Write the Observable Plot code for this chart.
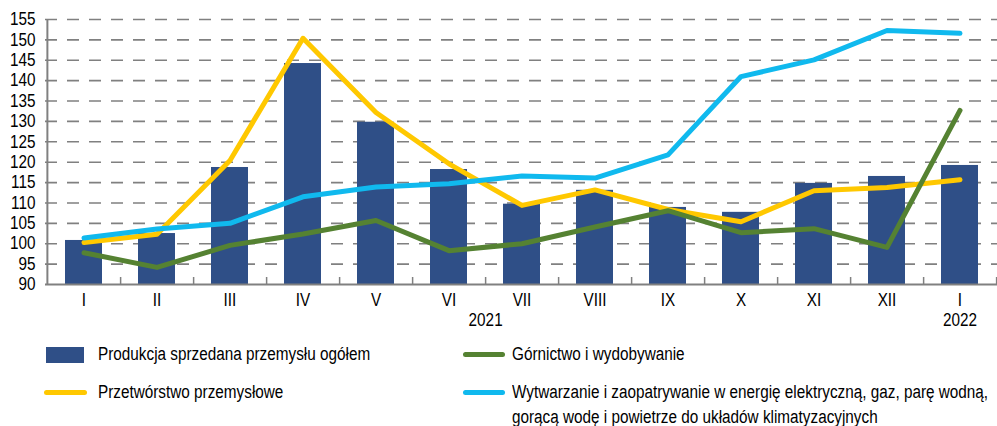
<!DOCTYPE html>
<html><head><meta charset="utf-8">
<script src="https://cdn.jsdelivr.net/npm/d3@7"></script>
<script src="https://cdn.jsdelivr.net/npm/@observablehq/plot@0.6"></script>
<style>
body{margin:0;background:#fff;}
#wrap{position:relative;width:997px;height:426px;overflow:hidden;font-family:"Liberation Sans",Arial,sans-serif;color:#000;}
#chart{position:absolute;left:0;top:0;}
.sw{position:absolute;}
.ln{position:absolute;height:5px;border-radius:3px;}
.txt{position:absolute;font-size:18px;line-height:25px;white-space:nowrap;transform:scaleX(0.85);transform-origin:0 0;}
</style></head><body>
<div id="wrap">
  <div id="chart"></div>
  <div id="legend"></div>
</div>
<script>
const months = ["I","II","III","IV","V","VI","VII","VIII","IX","X","XI","XII","I"];
const monthYears = [2021,2021,2021,2021,2021,2021,2021,2021,2021,2021,2021,2021,2022];
const total = [100.8, 102.5, 118.7, 144.2, 129.8, 118.2, 109.7, 113.1, 108.9, 107.7, 114.8, 116.5, 119.2];
const manufacturing = [100.3, 102.3, 120.4, 150.4, 132.2, 119.6, 109.4, 113.2, 108.4, 105.4, 113.0, 113.8, 115.7];
const mining = [97.8, 94.2, 99.6, 102.4, 105.7, 98.3, 100.0, 104.1, 108.1, 102.7, 103.7, 99.1, 132.7];
const energy = [101.4, 103.6, 105.0, 111.5, 113.9, 114.7, 116.6, 116.1, 121.8, 141.0, 145.1, 152.3, 151.6];
const yTicks = [90,95,100,105,110,115,120,125,130,135,140,145,150,155];
const years = ["2021","2022"];
const legendLabels = [
  "Produkcja sprzedana przemysłu ogółem",
  "Górnictwo i wydobywanie",
  "Przetwórstwo przemysłowe",
  "Wytwarzanie i zaopatrywanie w energię elektryczną, gaz, parę wodną,<br>gorącą wodę i powietrze do układów klimatyzacyjnych"
];
const colors = {total:"#2F4F87", manufacturing:"#FFC800", mining:"#558232", energy:"#10B9EE", grid:"#808080"};

const keys = months.map((m,i)=> m + "-" + monthYears[i]);
const rows = keys.map((k,i)=>({k, total: total[i], manufacturing: manufacturing[i], mining: mining[i], energy: energy[i]}));

const W=997, H=338, mL=45, mR=0, mT=19, mB=54;
const step = (W-mL-mR)/keys.length;
const yMin = yTicks[0], yMax = yTicks[yTicks.length-1];
const font = '"Liberation Sans",Arial,sans-serif';

const chart = Plot.plot({
  width: W, height: H,
  marginLeft: mL, marginRight: mR, marginTop: mT, marginBottom: mB,
  style: {fontFamily: font, fontSize: "18px", color: "#000", background: "#fff", overflow: "visible"},
  x: {domain: keys, paddingInner: 0.5, paddingOuter: 0.25, align: 0.5, axis: null},
  y: {domain: [yMin, yMax], axis: null},
  marks: [
    Plot.ruleY(yTicks.slice(1), {stroke: colors.grid, strokeWidth: 1.6, strokeDasharray: "12,10"}),
    Plot.barY(rows, {x: "k", y1: yMin, y2: "total", fill: colors.total}),
    Plot.lineY(rows, {x: "k", y: "manufacturing", stroke: colors.manufacturing, strokeWidth: 5}),
    Plot.lineY(rows, {x: "k", y: "mining", stroke: colors.mining, strokeWidth: 5}),
    Plot.lineY(rows, {x: "k", y: "energy", stroke: colors.energy, strokeWidth: 5}),
    Plot.ruleY([yMin], {stroke: colors.grid, strokeWidth: 2}),
    Plot.ruleX([keys[0]], {x: d=>d, dx: -step/2, stroke: colors.grid, strokeWidth: 2}),
    Plot.ruleX(keys, {x: d=>d, dx: step/2, insetTop: H-mT-mB-7, stroke: colors.grid, strokeWidth: 1.5}),
    Plot.axisY(yTicks, {tickSize: 0, tickPadding: 10, fontSize: 18, label: null}),
    Plot.axisX(keys, {tickSize: 0, tickPadding: 9, fontSize: 18, label: null, tickFormat: k => k.split("-")[0]}),
    Plot.text([years[0]], {x: () => keys[5], text: d=>d, frameAnchor: "bottom", dx: step/2, dy: 41, fontSize: 18}),
    Plot.text([years[1]], {x: () => keys[12], text: d=>d, frameAnchor: "bottom", dy: 41, fontSize: 18})
  ]
});
document.getElementById("chart").appendChild(chart);

// emulate the narrow (condensed) typeface of the original
chart.querySelectorAll("text").forEach(t => {
  const len = t.getComputedTextLength();
  if (len > 0) {
    t.setAttribute("textLength", (len * 0.85).toFixed(2));
    t.setAttribute("lengthAdjust", "spacingAndGlyphs");
  }
});

const lg = document.getElementById("legend");
lg.innerHTML = `
  <div class="sw" style="left:46px;top:347px;width:38px;height:16px;background:${colors.total}"></div>
  <div class="txt" style="left:98px;top:342px">${legendLabels[0]}</div>
  <div class="ln" style="left:463px;top:352px;width:42px;background:${colors.mining}"></div>
  <div class="txt" style="left:512px;top:342px">${legendLabels[1]}</div>
  <div class="ln" style="left:44px;top:390px;width:43px;background:${colors.manufacturing}"></div>
  <div class="txt" style="left:98px;top:380px">${legendLabels[2]}</div>
  <div class="ln" style="left:463px;top:390px;width:42px;background:${colors.energy}"></div>
  <div class="txt" style="left:512px;top:380px">${legendLabels[3]}</div>
`;
</script>
</body></html>
